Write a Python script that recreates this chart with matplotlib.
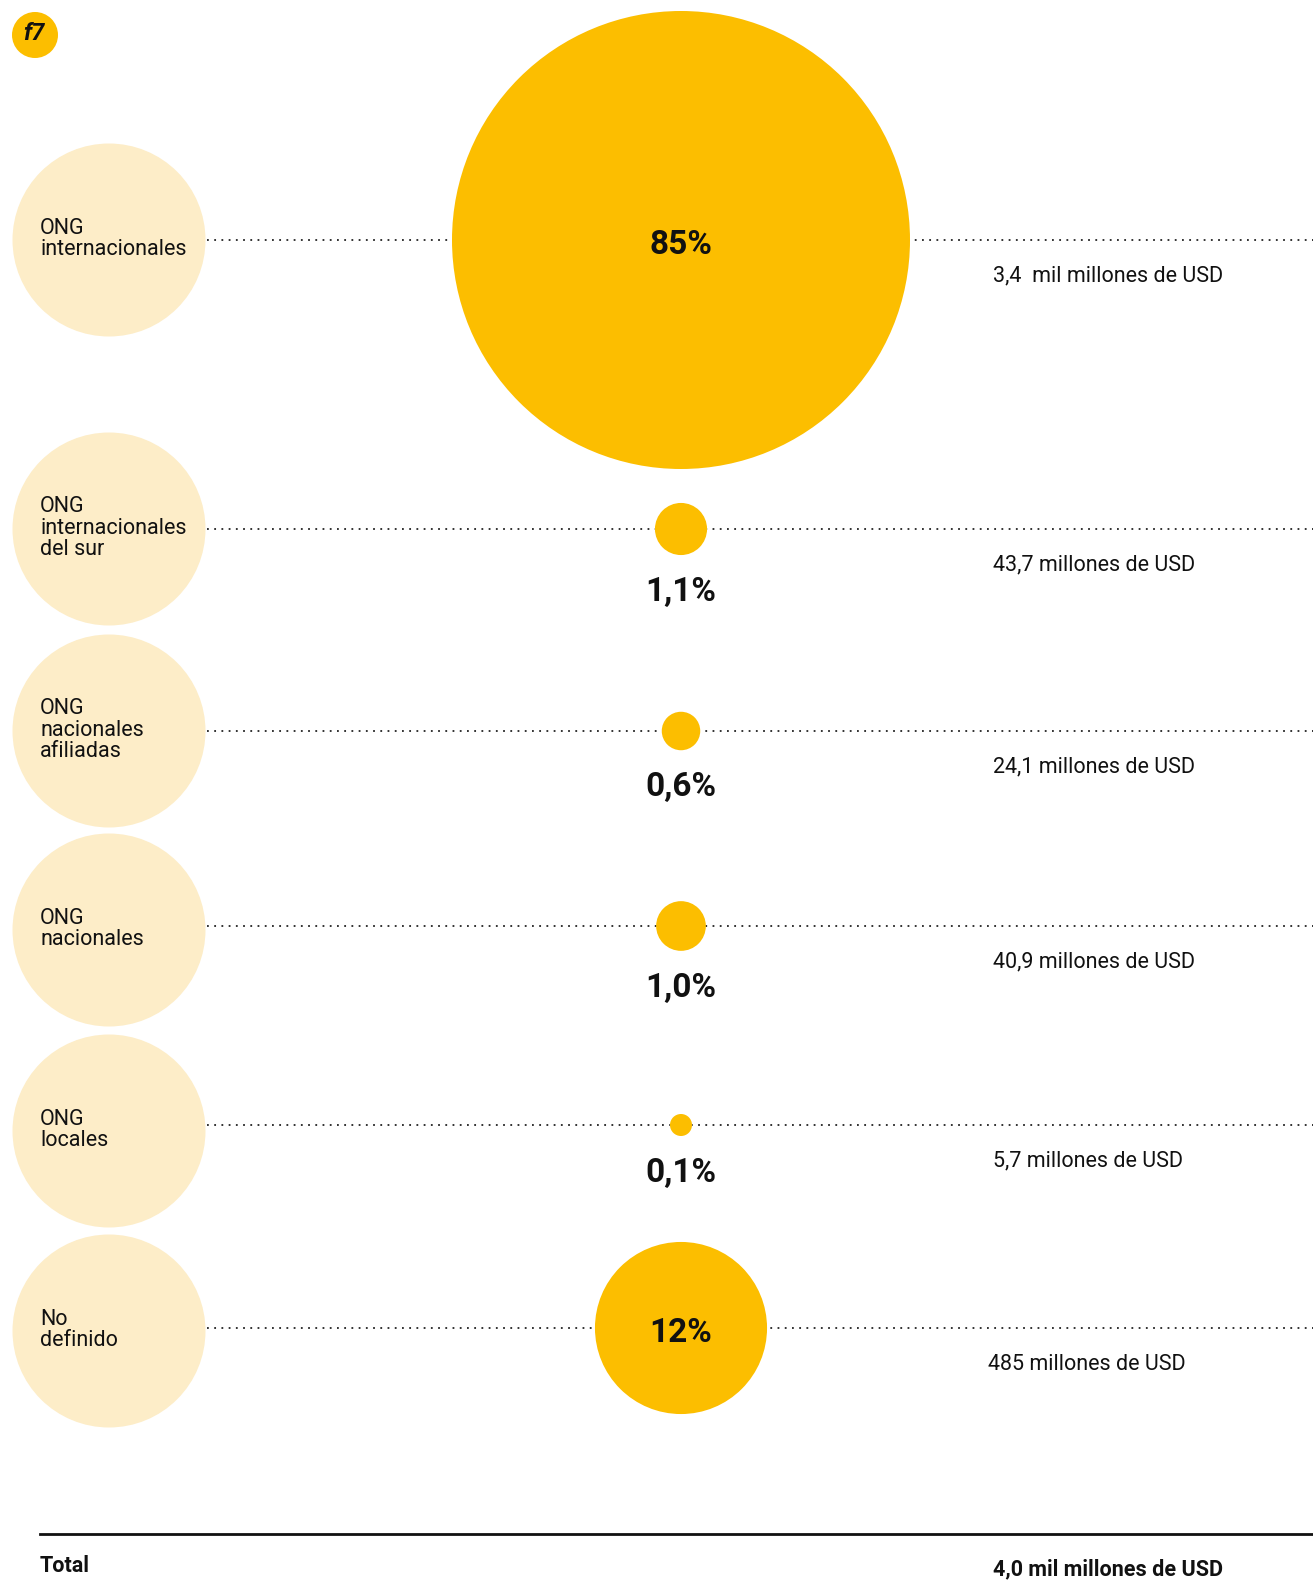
import matplotlib.pyplot as plt
from matplotlib.patches import Circle
import numpy as np

plt.rcParams['font.family'] = ['Roboto', 'DejaVu Sans']

# %%
# Data
categories = [
    "ONG\ninternacionales",
    "ONG\ninternacionales\ndel sur",
    "ONG\nnacionales\nafiliadas",
    "ONG\nnacionales",
    "ONG\nlocales",
    "No\ndefinido",
]
shares = [85, 1.1, 0.6, 1.0, 0.1, 12]
share_labels = ["85%", "1,1%", "0,6%", "1,0%", "0,1%", "12%"]
amounts = [
    "3,4  mil millones de USD",
    "43,7 millones de USD",
    "24,1 millones de USD",
    "40,9 millones de USD",
    "5,7 millones de USD",
    "485 millones de USD",
]
total_label = "Total"
total_amount = "4,0 mil millones de USD"

# layout (pixels)
W, H = 1313, 1580
row_y = [240, 529, 731, 926, 1125, 1328]
label_y = [240, 529, 731, 930, 1131, 1331]
cx = 681
r_max = 229
yellow = '#FCBE00'
pale = '#FDEDC8'
fs = 15.5

fig = plt.figure(figsize=(W / 100, H / 100), dpi=100)
ax = fig.add_axes([0, 0, 1, 1])
ax.set_xlim(0, W)
ax.set_ylim(H, 0)
ax.set_aspect('equal')
ax.axis('off')

# badge
ax.add_patch(Circle((35, 35), 23, color=yellow, lw=0))
ax.text(34, 34, "f7", ha='center', va='center', fontsize=17,
        fontweight='bold', fontstyle='italic', color='#111111')

for i, cat in enumerate(categories):
    y = row_y[i]
    r = r_max * np.sqrt(shares[i] / shares[0])
    r = max(r, 11)
    # label bubble
    ax.add_patch(Circle((109, label_y[i]), 96.5, color=pale, lw=0, zorder=1))
    ax.text(40, label_y[i] - 1, cat, ha='left', va='center', fontsize=fs,
            linespacing=1.05, color='#111111', zorder=3)
    # dotted guide
    ax.plot([207, W], [y, y], color='#222222', lw=1.3,
            linestyle=(0, (1, 3)), zorder=1)
    # value bubble
    ax.add_patch(Circle((cx, y), r, color=yellow, lw=0, zorder=2))
    if r > 60:
        ax.text(cx, y + 5, share_labels[i], ha='center', va='center',
                fontsize=24, fontweight='bold', color='#111111', zorder=3)
    else:
        ax.text(cx, y + r + 37, share_labels[i], ha='center', va='center',
                fontsize=24, fontweight='bold', color='#111111', zorder=3)
    ax.text(993 if i < 5 else 988, y + 36, amounts[i], ha='left', va='center',
            fontsize=fs, color='#111111', zorder=3)

# total
ax.plot([40, W], [1534, 1534], color='#111111', lw=2)
ax.text(40, 1566, total_label, ha='left', va='center', fontsize=fs,
        fontweight='bold', color='#111111')
ax.text(993, 1569, total_amount, ha='left', va='center', fontsize=fs,
        fontweight='bold', color='#111111')

fig.savefig('out.png', dpi=100)
